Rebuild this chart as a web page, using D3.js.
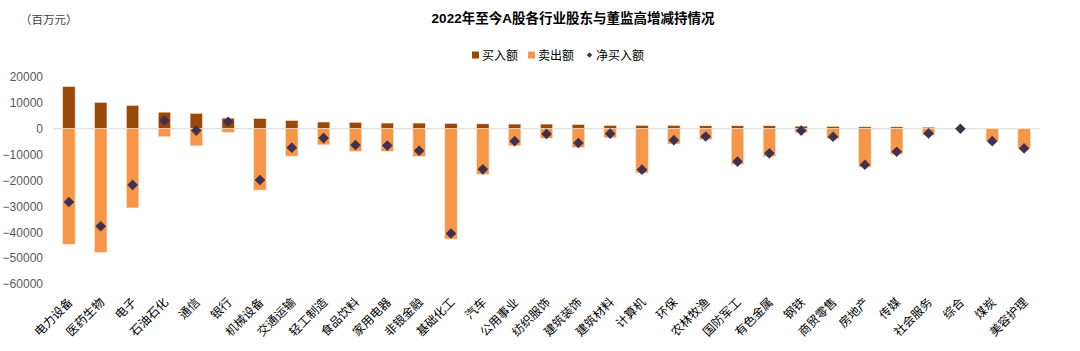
<!DOCTYPE html>
<html>
<head>
<meta charset="utf-8">
<script src="https://cdn.jsdelivr.net/npm/d3@7"></script>
<style>
    body { margin: 0; background: #fff; }
    svg text { font-family: "Liberation Sans", Arial, "Noto Sans CJK SC", sans-serif; }
</style>
</head>
<body>
<div id="chart"></div>
<script>
// 行业 (categories)
const industries = ["电力设备", "医药生物", "电子", "石油石化", "通信", "银行", "机械设备", "交通运输", "轻工制造", "食品饮料",
    "家用电器", "非银金融", "基础化工", "汽车", "公用事业", "纺织服饰", "建筑装饰", "建筑材料", "计算机", "环保",
    "农林牧渔", "国防军工", "有色金属", "钢铁", "商贸零售", "房地产", "传媒", "社会服务", "综合", "煤炭", "美容护理"];

// 买入额 (百万元)
const buyValues = [16300, 10200, 9000, 6400, 5900, 4100, 4000, 3200, 2600, 2500,
    2200, 2200, 2050, 1900, 1800, 1800, 1650, 1300, 1300, 1300,
    1150, 1150, 1150, 1000, 900, 750, 750, 600, 100, 0, 50];

// 卖出额 (百万元)
const sellValues = [-44600, -47800, -30600, -3100, -6600, -1400, -23700, -10600, -6200, -8700,
    -8700, -10700, -42600, -17600, -6600, -3700, -7200, -3500, -17100, -5900,
    -4200, -13800, -10700, -1550, -3900, -14800, -9800, -2500, -100, -4900, -7700];

// 净买入额 (百万元)
const netValues = [-28300, -37700, -21700, 3200, -700, 2700, -19800, -7300, -3600, -6300,
    -6500, -8500, -40500, -15700, -4800, -2000, -5500, -1900, -15800, -4400,
    -3000, -12700, -9500, -700, -3100, -13900, -8900, -1800, 0, -4800, -7600];

const yTicks = [20000, 10000, 0, -10000, -20000, -30000, -40000, -50000, -60000];

const colors = { buy: "#984807", sell: "#F79646", net: "#403151" };

const width = 1080, height = 351;
const margin = { top: 77, right: 40, bottom: 67, left: 53 };

const svg = d3.select("#chart").append("svg")
    .attr("width", width)
    .attr("height", height);

// scales
const x = d3.scaleBand()
    .domain(industries)
    .range([margin.left, width - margin.right])
    .paddingInner(0.61)
    .paddingOuter(0.305);

const y = d3.scaleLinear()
    .domain([-60000, 20000])
    .range([height - margin.bottom, margin.top]);

// title
svg.append("text")
    .attr("x", 573)
    .attr("y", 23)
    .attr("text-anchor", "middle")
    .attr("font-size", 13.5)
    .attr("font-weight", "bold")
    .attr("fill", "#000")
    .text("2022年至今A股各行业股东与董监高增减持情况");

// unit label
svg.append("text")
    .attr("x", 20)
    .attr("y", 24)
    .attr("font-size", 11.5)
    .attr("fill", "#404040")
    .text("（百万元）");

// y axis (labels only)
const yAxis = svg.append("g")
    .attr("transform", `translate(${margin.left - 10},0)`)
    .call(d3.axisLeft(y).tickValues(yTicks).tickSize(0).tickFormat(d3.format("d")));
yAxis.select(".domain").remove();
yAxis.selectAll("text")
    .attr("font-size", 12)
    .attr("fill", "#595959")
    .attr("x", 0);

// zero line
svg.append("line")
    .attr("x1", margin.left)
    .attr("x2", width - margin.right)
    .attr("y1", y(0))
    .attr("y2", y(0))
    .attr("stroke", "#d9d9d9")
    .attr("stroke-width", 1.2);

// bars
const barGroup = svg.append("g");

barGroup.selectAll(".bar-buy")
    .data(industries)
    .join("rect")
    .attr("class", "bar-buy")
    .attr("x", d => x(d))
    .attr("width", x.bandwidth())
    .attr("y", (d, i) => y(buyValues[i]))
    .attr("height", (d, i) => y(0) - y(buyValues[i]))
    .attr("fill", colors.buy)
    .attr("stroke", "#fbe5d6")
    .attr("stroke-width", 0.6);

barGroup.selectAll(".bar-sell")
    .data(industries)
    .join("rect")
    .attr("class", "bar-sell")
    .attr("x", d => x(d))
    .attr("width", x.bandwidth())
    .attr("y", y(0))
    .attr("height", (d, i) => y(sellValues[i]) - y(0))
    .attr("fill", colors.sell)
    .attr("stroke", "#fbe5d6")
    .attr("stroke-width", 0.6);

// net diamonds
const diamond = d3.symbol().type(d3.symbolDiamond2).size(72);
svg.append("g").selectAll("path")
    .data(industries)
    .join("path")
    .attr("d", diamond)
    .attr("transform", (d, i) => `translate(${x(d) + x.bandwidth() / 2},${y(netValues[i])})`)
    .attr("fill", colors.net);

// x labels, rotated
svg.append("g").selectAll("text")
    .data(industries)
    .join("text")
    .attr("transform", d => `translate(${x(d) + x.bandwidth() / 2 + 4.5},${height - margin.bottom + 19}) rotate(-45)`)
    .attr("text-anchor", "end")
    .attr("font-size", 12)
    .attr("fill", "#000")
    .text(d => d);

// legend
const legendItems = [
    { label: "买入额", color: colors.buy, type: "rect", x: 472 },
    { label: "卖出额", color: colors.sell, type: "rect", x: 528 },
    { label: "净买入额", color: colors.net, type: "diamond", x: 586 }
];
const legend = svg.append("g").attr("transform", "translate(0,55)");
legendItems.forEach(item => {
    if (item.type === "rect") {
        legend.append("rect")
            .attr("x", item.x)
            .attr("y", -3.5)
            .attr("width", 7)
            .attr("height", 7)
            .attr("fill", item.color);
    } else {
        legend.append("path")
            .attr("d", d3.symbol().type(d3.symbolDiamond2).size(20))
            .attr("transform", `translate(${item.x + 3.5},0)`)
            .attr("fill", item.color);
    }
    legend.append("text")
        .attr("x", item.x + 10)
        .attr("y", 4.5)
        .attr("font-size", 12)
        .attr("fill", "#000")
        .text(item.label);
});
</script>
</body>
</html>
